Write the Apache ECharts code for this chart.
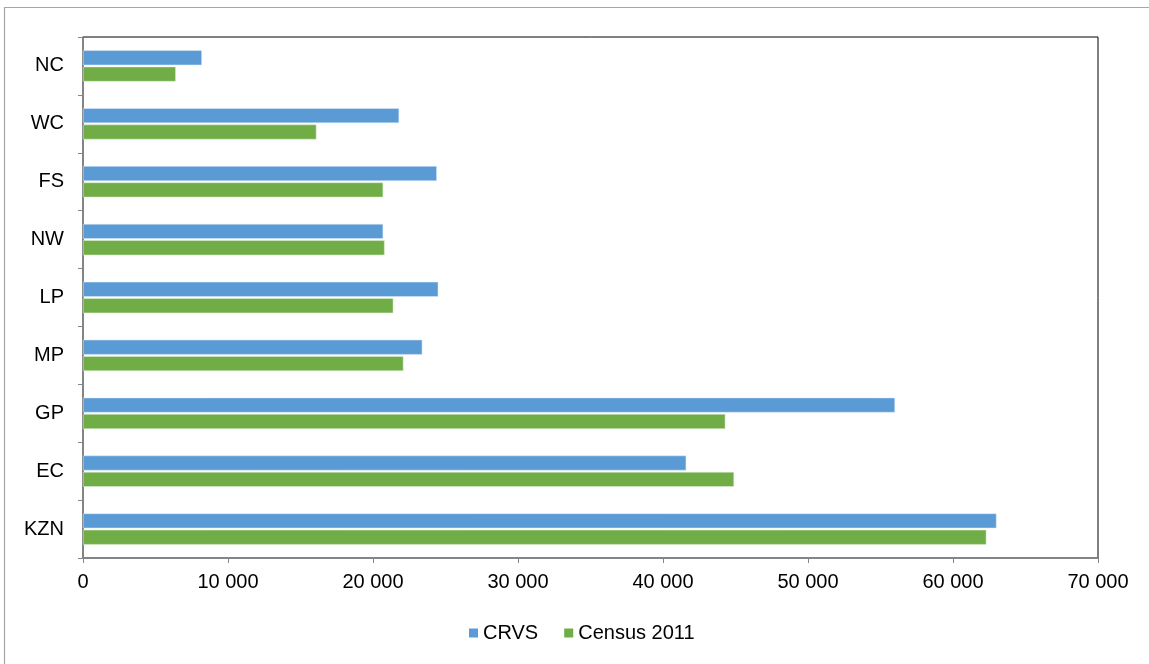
<!DOCTYPE html>
<html><head><meta charset="utf-8">
<script src="https://cdn.jsdelivr.net/npm/echarts@6/dist/echarts.min.js"></script>
<style>html,body{margin:0;padding:0;background:#fff}#c{width:1149px;height:664px}</style>
</head><body><div id="c"></div>
<script>
const categories = ['NC','WC','FS','NW','LP','MP','GP','EC','KZN'];
const crvs = [8200, 21800, 24400, 20700, 24500, 23400, 56000, 41600, 63000];
const census = [6400, 16100, 20700, 20800, 21400, 22100, 44300, 44900, 62300];
const xTicks = {min: 0, max: 70000, interval: 10000};

const chart = echarts.init(document.getElementById('c'));
const fmt = v => String(v).replace(/\B(?=(\d{3})+(?!\d))/g, ' ');
chart.setOption({
  animation: false,
  textStyle: {fontFamily: 'Liberation Sans, Arial, sans-serif'},
  graphic: [
    {type: 'line', shape: {x1: 4, y1: 7.5, x2: 1149, y2: 7.5}, style: {stroke: '#a6a6a6', lineWidth: 1.2}, silent: true},
    {type: 'line', shape: {x1: 4.5, y1: 7, x2: 4.5, y2: 664}, style: {stroke: '#a6a6a6', lineWidth: 1.2}, silent: true}
  ],
  grid: {left: 83, right: 51, top: 37, bottom: 106, show: true, borderColor: '#000', borderWidth: 1},
  legend: {top: 618, left: 464, itemWidth: 9, itemHeight: 9, icon: 'rect', itemGap: 26,
    textStyle: {fontSize: 20, color: '#000'}, data: ['CRVS', 'Census 2011'],
    itemStyle: {borderWidth: 0}},
  xAxis: {type: 'value', min: xTicks.min, max: xTicks.max, interval: xTicks.interval,
    splitLine: {show: false},
    axisLine: {show: true, lineStyle: {color: '#868686', width: 1.5}},
    axisTick: {show: true, length: 5, lineStyle: {color: '#868686'}},
    axisLabel: {fontSize: 20, color: '#000', margin: 14, formatter: fmt}},
  yAxis: {type: 'category', data: categories, inverse: true,
    axisLine: {show: true, lineStyle: {color: '#868686', width: 1.5}},
    axisTick: {show: true, length: 5, lineStyle: {color: '#868686'}},
    axisLabel: {fontSize: 20, color: '#000', margin: 19}},
  series: [
    {name: 'CRVS', type: 'bar', data: crvs, barGap: '10%', barCategoryGap: '46%',
      itemStyle: {color: '#5B9BD5', borderColor: '#dfeaf6', borderWidth: 0.5}},
    {name: 'Census 2011', type: 'bar', data: census,
      itemStyle: {color: '#70AD47', borderColor: '#e4f0dc', borderWidth: 0.5}}
  ]
});
</script></body></html>
